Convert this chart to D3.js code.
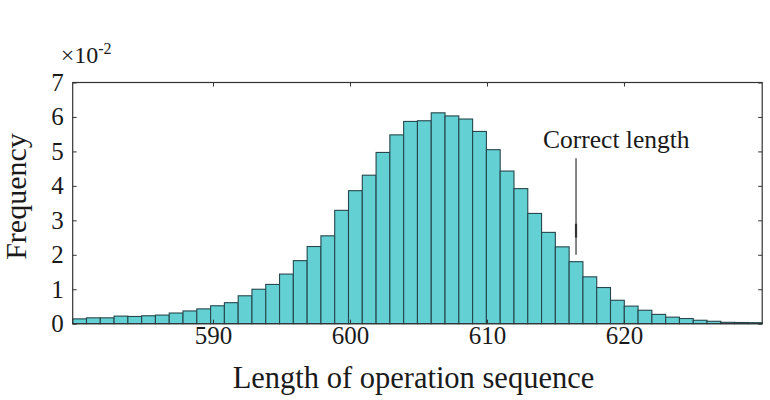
<!DOCTYPE html>
<meta charset="utf-8">
<style>
  body { margin: 0; background: #fff; }
  text { font-family: "Liberation Serif", "Times New Roman", serif; fill: #1a1a1a; }
</style>
<body>
<svg width="770" height="400"></svg>
<script src="https://d3js.org/d3.v7.min.js"></script>
<script>
// histogram: 50 equal bins between xMin and xMax, heights in units of 1e-2
var xMin = 579.76, xMax = 630.09;
var freq = [0.14, 0.17, 0.17, 0.22, 0.21, 0.23, 0.25, 0.31, 0.37, 0.43,
            0.52, 0.61, 0.81, 1.00, 1.14, 1.44, 1.83, 2.24, 2.55, 3.29,
            3.86, 4.31, 4.97, 5.48, 5.87, 5.89, 6.12, 6.03, 5.94, 5.58,
            5.05, 4.43, 3.92, 3.20, 2.65, 2.23, 1.80, 1.36, 1.05, 0.68,
            0.51, 0.39, 0.27, 0.19, 0.15, 0.10, 0.07, 0.04, 0.035, 0.03];
var xTicks = [590, 600, 610, 620];
var yTicks = [0, 1, 2, 3, 4, 5, 6, 7];

// annotation (data coords)
var annText = "Correct length";
var annX = 616.5, annTop = 4.8, annTip = 2.0, annTextY = 5.1;

var margin = {top: 82.5, right: 7.8, bottom: 76.3, left: 72.7},
    width = 770 - margin.left - margin.right,
    height = 400 - margin.top - margin.bottom;

var svg = d3.select("svg")
  .append("g")
    .attr("transform", "translate(" + margin.left + "," + margin.top + ")");

var x = d3.scaleLinear().domain([xMin, xMax]).range([0, width]);
var y = d3.scaleLinear().domain([0, 7]).range([height, 0]);

var binW = (xMax - xMin) / freq.length;
var bins = freq.map(function (f, i) {
  return {x0: xMin + i * binW, x1: xMin + (i + 1) * binW, f: f};
});

// bars
svg.selectAll("rect.bar")
  .data(bins)
  .enter()
  .append("rect")
    .attr("class", "bar")
    .attr("x", d => x(d.x0))
    .attr("y", d => y(d.f))
    .attr("width", d => x(d.x1) - x(d.x0))
    .attr("height", d => y(0) - y(d.f))
    .style("fill", "#63d0d4")
    .style("stroke", "#25474c")
    .style("stroke-width", 1.1);

// axes, ticks pointing inward
svg.append("g")
  .attr("transform", "translate(0," + height + ")")
  .call(d3.axisBottom(x).tickValues(xTicks).tickSizeInner(-4).tickSizeOuter(0).tickPadding(3));
svg.append("g")
  .call(d3.axisLeft(y).tickValues(yTicks).tickFormat(d3.format("d"))
    .tickSizeInner(-4).tickSizeOuter(0).tickPadding(9));
svg.append("g")
  .call(d3.axisTop(x).tickValues(xTicks).tickFormat("").tickSizeInner(-4).tickSizeOuter(0));
svg.append("g")
  .attr("transform", "translate(" + width + ",0)")
  .call(d3.axisRight(y).tickValues(yTicks).tickFormat("").tickSizeInner(-4).tickSizeOuter(0));

svg.selectAll(".domain").remove();
svg.selectAll(".tick line").style("stroke", "#333");
svg.selectAll(".tick text")
  .style("font-family", "'Liberation Serif', serif")
  .style("font-size", "25px")
  .style("fill", "#1a1a1a");

// box
svg.append("rect")
  .attr("width", width)
  .attr("height", height)
  .style("fill", "none")
  .style("stroke", "#333")
  .style("stroke-width", 1.2);

// exponent label
var expo = svg.append("text")
  .attr("x", -12)
  .attr("y", -19.5)
  .style("font-size", "24px");
expo.append("tspan").text("\u00d710");
expo.append("tspan").attr("dy", -9).style("font-size", "16px").text("-2");

// axis titles
svg.append("text")
  .attr("x", width / 2 - 4)
  .attr("y", height + 64)
  .attr("text-anchor", "middle")
  .style("font-size", "30.5px")
  .text("Length of operation sequence");

svg.append("text")
  .attr("transform", "translate(" + (26 - margin.left) + "," + 114 + ") rotate(-90)")
  .attr("text-anchor", "middle")
  .style("font-size", "30px")
  .text("Frequency");

// annotation
svg.append("line")
  .attr("x1", x(annX)).attr("x2", x(annX))
  .attr("y1", y(annTop)).attr("y2", y(annTip))
  .style("stroke", "#333")
  .style("stroke-width", 1.2);
svg.append("line")
  .attr("x1", x(annX)).attr("x2", x(annX))
  .attr("y1", y(2.9)).attr("y2", y(2.5))
  .style("stroke", "#333")
  .style("stroke-width", 2.2);
svg.append("text")
  .attr("x", x(annX) - 33)
  .attr("y", y(annTextY))
  .style("font-size", "25.5px")
  .text(annText);
</script>
</body>
